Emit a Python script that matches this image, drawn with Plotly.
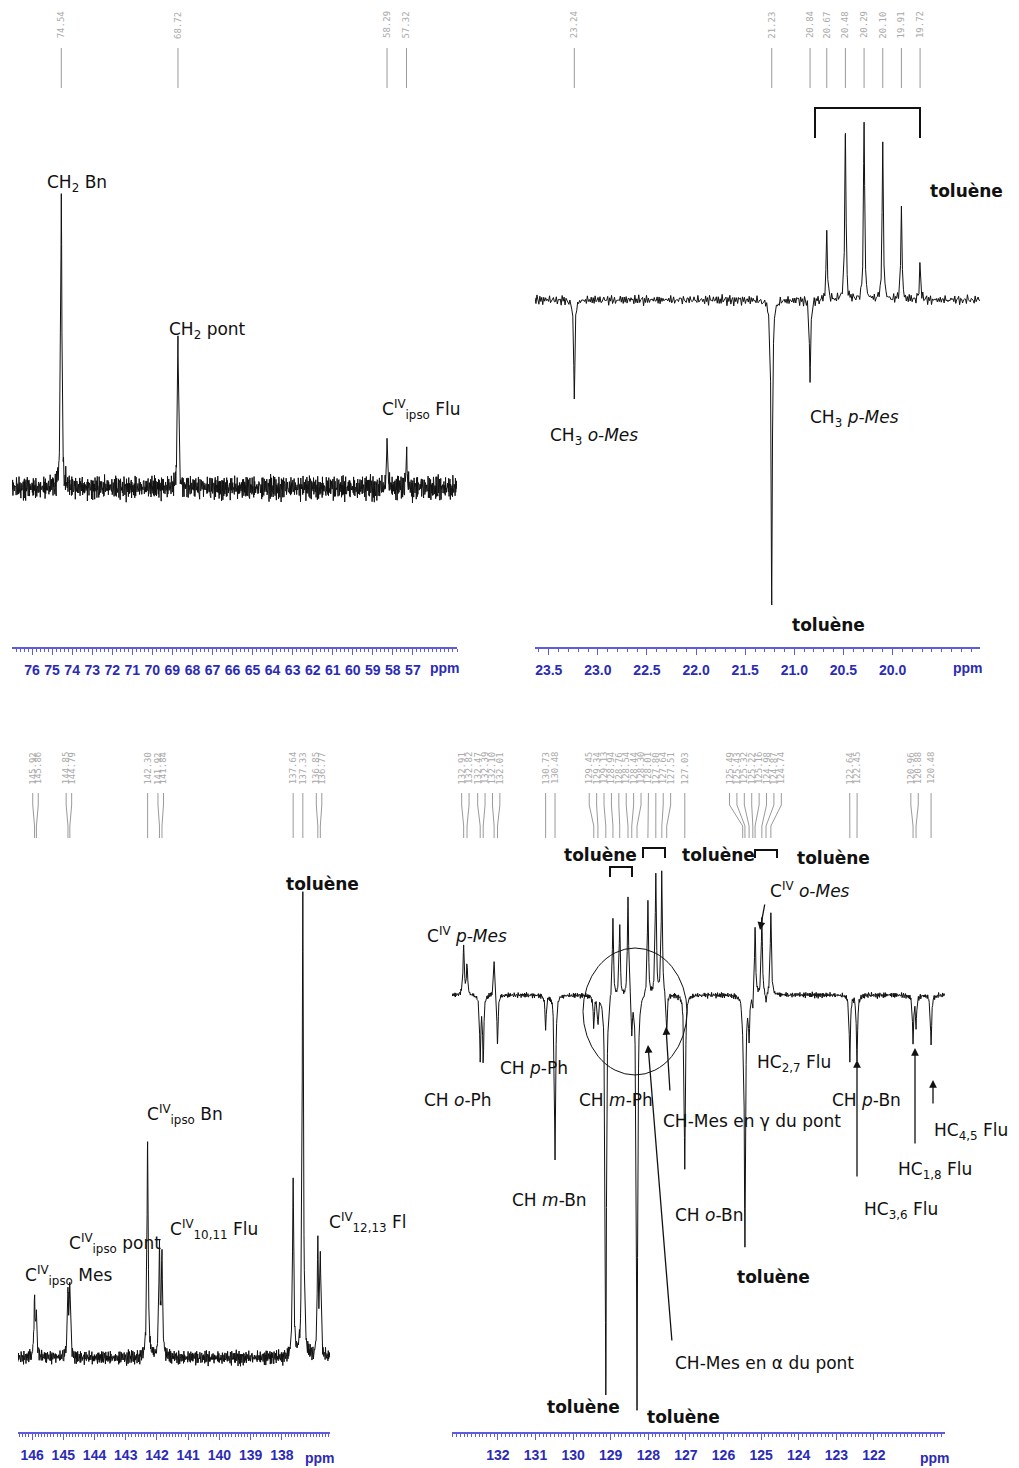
import numpy as np
import plotly.graph_objects as go

W, H = 1019, 1468

# ---------------- data ----------------
# Panel A : 13C, 55-77 ppm
a_ppm = [74.54, 68.72, 58.29, 57.32]
a_int = [288, 143, 45, 33]
a_ticks = [76, 75, 74, 73, 72, 71, 70, 69, 68, 67, 66, 65, 64, 63, 62, 61, 60, 59, 58, 57]

# Panel B : DEPT, 19-24 ppm
b_ppm = [23.24, 21.23, 20.84, 20.67, 20.48, 20.29, 20.10, 19.91, 19.72]
b_int = [-100, -307, -82, 70, 170, 180, 160, 90, 35]
b_ticks = [23.5, 23.0, 22.5, 22.0, 21.5, 21.0, 20.5, 20.0]

# Panel C : 13C, 136-146 ppm
c_ppm = [145.92, 145.86, 144.85, 144.79, 142.30, 141.92, 141.84, 137.64, 137.33, 136.85, 136.77]
c_int = [55, 40, 60, 68, 218, 108, 100, 178, 463, 108, 96]
c_ticks = [146, 145, 144, 143, 142, 141, 140, 139, 138]

# Panel D : DEPT, 120-133 ppm
d_ppm = [132.91, 132.82, 132.47, 132.39, 132.10, 132.01,
         130.73, 130.48,
         129.45, 129.34, 129.13, 128.94, 128.76, 128.54, 128.44, 128.30,
         128.01, 127.80, 127.64, 127.51, 127.03,
         125.49, 125.43, 125.32, 125.22, 125.16, 124.98, 124.87, 124.74,
         122.64, 122.45,
         120.96, 120.88, 120.48]
d_int = [50, 30, -62, -65, 35, -50,
         -33, -165,
         -30, -25, -400, 80, 70, 100, -35, -415,
         95, 120, 125, -40, -175,
         -20, -250, -40, -15, 70, 75, -10, 82,
         -65, -65,
         -45, -30, -50]
d_ticks = [132, 131, 130, 129, 128, 127, 126, 125, 124, 123, 122]

# baseline noise texture (fixed, hand-typed pattern)
noise_a = [0.12, -0.45, 0.78, -0.31, 0.05, 0.66, -0.82, 0.27, -0.14, 0.53, -0.69, 0.38,
           -0.05, 0.91, -0.58, 0.19, -0.27, 0.44, -0.93, 0.31, 0.07, -0.61, 0.72, -0.18,
           0.35, -0.77, 0.58, -0.09, 0.24, -0.49, 0.86, -0.36, 0.11, -0.71, 0.47, -0.22,
           0.63, -0.54, 0.02, 0.81, -0.66, 0.29, -0.12, 0.57, -0.88, 0.41, -0.25, 0.69,
           -0.43, 0.16, -0.79, 0.52, -0.07, 0.34, -0.62, 0.75, -0.29, 0.09, -0.51, 0.84, -0.38]
noise_b = [-0.33, 0.58, -0.12, 0.27, -0.71, 0.45, 0.08, -0.52, 0.63, -0.24, 0.36, -0.87,
           0.19, 0.51, -0.41, 0.02, 0.74, -0.63, 0.31, -0.16, 0.48, -0.79, 0.22, 0.66,
           -0.35, -0.08, 0.55, -0.47, 0.13, 0.82, -0.58, 0.26, -0.19, 0.43, -0.69, 0.04,
           0.61, -0.28, 0.39, -0.84, 0.17, 0.52, -0.44]

# ---------------- styling / layout ----------------
BLUE = "#5c5cdc"
DKBLUE = "#2b2bb5"
LBLGREY = "#9a9a9a"

panels = [
    dict(ppm=a_ppm, inten=a_int, ticks=a_ticks, tfmt="{:.0f}", xpx=(12, 457), xr=(77.0, 54.8),
         ypx=(0, 647), base=488, npts=1400, noise=17, minor=0.2,
         hdr=dict(text=25, top=48, a=60, b=76, bot=88), gap=6, ppm_lbl=(445, 668)),
    dict(ppm=b_ppm, inten=b_int, ticks=b_ticks, tfmt="{:.1f}", xpx=(535, 980), xr=(23.64, 19.11),
         ypx=(0, 647), base=300, npts=460, noise=7, minor=0.1,
         hdr=dict(text=25, top=48, a=60, b=76, bot=88), gap=6, ppm_lbl=(968, 668)),
    dict(ppm=c_ppm, inten=c_int, ticks=c_ticks, tfmt="{:.0f}", xpx=(18, 330), xr=(146.45, 136.46),
         ypx=(740, 1432), base=1358, npts=900, noise=10, minor=0.1,
         hdr=dict(text=768, top=793, a=805, b=826, bot=838), gap=5.5, ppm_lbl=(320, 1458)),
    dict(ppm=d_ppm, inten=d_int, ticks=d_ticks, tfmt="{:.0f}", xpx=(452, 945), xr=(133.22, 120.11),
         ypx=(740, 1432), base=995, npts=1000, noise=4, minor=0.1,
         hdr=dict(text=768, top=793, a=805, b=826, bot=838), gap=7.4, ppm_lbl=(935, 1458)),
]


def spread(vals, gap):
    clusters = [[i] for i in range(len(vals))]

    def pos(cl):
        m = float(np.mean([vals[i] for i in cl]))
        k = len(cl)
        return [m + gap * ((k - 1) / 2 - j) for j in range(k)]

    changed = True
    while changed:
        changed = False
        for i in range(len(clusters) - 1):
            p1, p2 = pos(clusters[i]), pos(clusters[i + 1])
            if p1[-1] - p2[0] < gap - 1e-9:
                clusters[i] = clusters[i] + clusters[i + 1]
                del clusters[i + 1]
                changed = True
                break
    out = []
    for cl in clusters:
        out += pos(cl)
    return out


fig = go.Figure()
layout = dict(width=W, height=H, margin=dict(l=0, r=0, t=0, b=0),
              paper_bgcolor="white", plot_bgcolor="white", showlegend=False)
annotations = []
shapes = []

na = np.array(noise_a)
nb = np.array(noise_b)

for k, P in enumerate(panels, start=1):
    sfx = "" if k == 1 else str(k)
    xr = P["xr"]
    x0, x1 = P["xpx"]
    pxpp = (x1 - x0) / (xr[0] - xr[1])
    ytop, ybot = P["ypx"]
    base = P["base"]

    grid = np.linspace(xr[1], xr[0], P["npts"])
    x = np.union1d(grid, np.array(P["ppm"]))
    idx = np.arange(len(x))
    y = P["noise"] * (0.6 * na[idx % len(na)] + 0.4 * nb[idx % len(nb)])
    g = 0.7 / pxpp
    for p, h in zip(P["ppm"], P["inten"]):
        y = y + h * g ** 2 / ((x - p) ** 2 + g ** 2)

    fig.add_trace(go.Scatter(x=x, y=y, mode="lines", line=dict(color="#111", width=1),
                             xaxis="x" + sfx, yaxis="y" + sfx, hoverinfo="skip"))

    # peak-pick header lines
    hd = P["hdr"]
    lab = spread(list(P["ppm"]), P["gap"] / pxpp)
    hx, hy = [], []
    for lx, p in zip(lab, P["ppm"]):
        hx += [lx, lx, p, p, None]
        hy += [base - hd["top"], base - hd["a"], base - hd["b"], base - hd["bot"], None]
        annotations.append(dict(x=lx, y=base - hd["text"], xref="x" + sfx, yref="y" + sfx,
                                text=f"{p:.2f}", textangle=-90, showarrow=False,
                                font=dict(family="DejaVu Sans Mono", size=9, color="#aaaaaa"),
                                xanchor="center", yanchor="middle"))
    fig.add_trace(go.Scatter(x=hx, y=hy, mode="lines", line=dict(color=LBLGREY, width=1),
                             xaxis="x" + sfx, yaxis="y" + sfx, hoverinfo="skip"))

    minor_vals = list(np.round(np.arange(np.ceil(xr[1] / P["minor"]) * P["minor"], xr[0], P["minor"]), 3))
    layout["xaxis" + sfx] = dict(
        domain=[x0 / W, x1 / W], range=list(xr), anchor="y" + sfx,
        showline=True, linecolor=BLUE, linewidth=2, mirror=False,
        ticks="outside", ticklen=6, tickwidth=1, tickcolor=BLUE,
        tickmode="array", tickvals=P["ticks"], ticktext=[P["tfmt"].format(t) for t in P["ticks"]],
        minor=dict(tickmode="array", tickvals=minor_vals, ticks="outside", ticklen=3,
                   tickwidth=1, tickcolor=BLUE),
        showgrid=False, zeroline=False, ticklabelstandoff=3,
        tickfont=dict(family="Liberation Sans Narrow, Arial Narrow, sans-serif", size=14,
                      color=DKBLUE, weight="bold"),
    )
    layout["yaxis" + sfx] = dict(domain=[1 - ybot / H, 1 - ytop / H],
                                 range=[base - ybot, base - ytop], visible=False,
                                 anchor="x" + sfx)
    annotations.append(dict(x=P["ppm_lbl"][0] / W, y=1 - P["ppm_lbl"][1] / H, xref="paper", yref="paper",
                            text="ppm", showarrow=False, xanchor="center", yanchor="middle",
                            font=dict(family="Liberation Sans Narrow, Arial Narrow, sans-serif",
                                      size=14, color=DKBLUE, weight="bold")))


def txt(text, px, py, bold=False, size=17):
    return dict(x=px / W, y=1 - py / H, xref="paper", yref="paper", text=text, showarrow=False,
                xanchor="left", yanchor="middle",
                font=dict(family="DejaVu Sans", size=size, color="#111",
                          weight="bold" if bold else "normal"))


CIV = "C<sup>IV</sup>"
labels = [
    ("CH<sub>2</sub> Bn", 45, 183, False), ("CH<sub>2</sub> pont", 167, 331, False),
    (CIV + "<sub>ipso</sub> Flu", 380, 410, False),
    ("toluène", 928, 191, True), ("CH<sub>3</sub> <i>o-Mes</i>", 548, 436, False),
    ("CH<sub>3</sub> <i>p-Mes</i>", 808, 418, False), ("toluène", 790, 625, True),
    ("toluène", 284, 884, True), (CIV + "<sub>ipso</sub> Bn", 145, 1114, False),
    (CIV + "<sub>10,11</sub> Flu", 168, 1229, False), (CIV + "<sub>ipso</sub> pont", 67, 1243, False),
    (CIV + "<sub>ipso</sub> Mes", 23, 1275, False), (CIV + "<sub>12,13</sub> Fl", 327, 1222, False),
    ("toluène", 562, 855, True), ("toluène", 680, 855, True), ("toluène", 795, 858, True),
    (CIV + " <i>o-Mes</i>", 768, 890, False), (CIV + " <i>p-Mes</i>", 425, 935, False),
    ("CH <i>p</i>-Ph", 498, 1068, False), ("CH <i>o</i>-Ph", 422, 1100, False),
    ("CH <i>m</i>-Ph", 577, 1100, False), ("CH-Mes en γ du pont", 661, 1121, False),
    ("HC<sub>2,7</sub> Flu", 755, 1063, False), ("CH <i>p</i>-Bn", 830, 1100, False),
    ("HC<sub>4,5</sub> Flu", 932, 1131, False), ("HC<sub>1,8</sub> Flu", 896, 1170, False),
    ("HC<sub>3,6</sub> Flu", 862, 1210, False), ("CH <i>m</i>-Bn", 510, 1200, False),
    ("CH <i>o</i>-Bn", 673, 1215, False), ("toluène", 735, 1277, True),
    ("CH-Mes en α du pont", 673, 1363, False), ("toluène", 545, 1407, True),
    ("toluène", 645, 1417, True),
]
for t, px, py, b in labels:
    annotations.append(txt(t, px, py, b))

# arrows: (head_x, head_y, tail_x, tail_y)
arrows = [(760, 930, 765, 903), (666, 1027, 670, 1092), (648, 1045, 672, 1342),
          (857, 1060, 857, 1178), (915, 1048, 915, 1145), (933, 1080, 933, 1105)]
for hx_, hy_, tx_, ty_ in arrows:
    annotations.append(dict(x=hx_ / W, y=1 - hy_ / H, xref="paper", yref="paper", text="",
                            showarrow=True, ax=tx_ - hx_, ay=ty_ - hy_, axref="pixel", ayref="pixel",
                            arrowhead=2, arrowsize=1.2, arrowwidth=1.3, arrowcolor="#111"))


def pp(px, py):
    return f"{px / W:.5f},{1 - py / H:.5f}"


brackets = [(815, 920, 108, 138), (610, 632, 867, 877), (643, 665, 848, 858), (755, 777, 850, 858)]
for xa, xb, yt, yb in brackets:
    shapes.append(dict(type="path", xref="paper", yref="paper",
                       path=f"M{pp(xa, yb)} L{pp(xa, yt)} L{pp(xb, yt)} L{pp(xb, yb)}",
                       line=dict(color="#111", width=2)))
shapes.append(dict(type="circle", xref="paper", yref="paper", x0=583 / W, x1=687 / W,
                   y0=1 - 1075 / H, y1=1 - 948 / H, line=dict(color="#111", width=1)))

layout["annotations"] = annotations
layout["shapes"] = shapes
fig.update_layout(**layout)
fig.write_html("out.html", config={"displayModeBar": False},
               post_script="document.body.style.margin='0';document.body.style.overflow='hidden';")
